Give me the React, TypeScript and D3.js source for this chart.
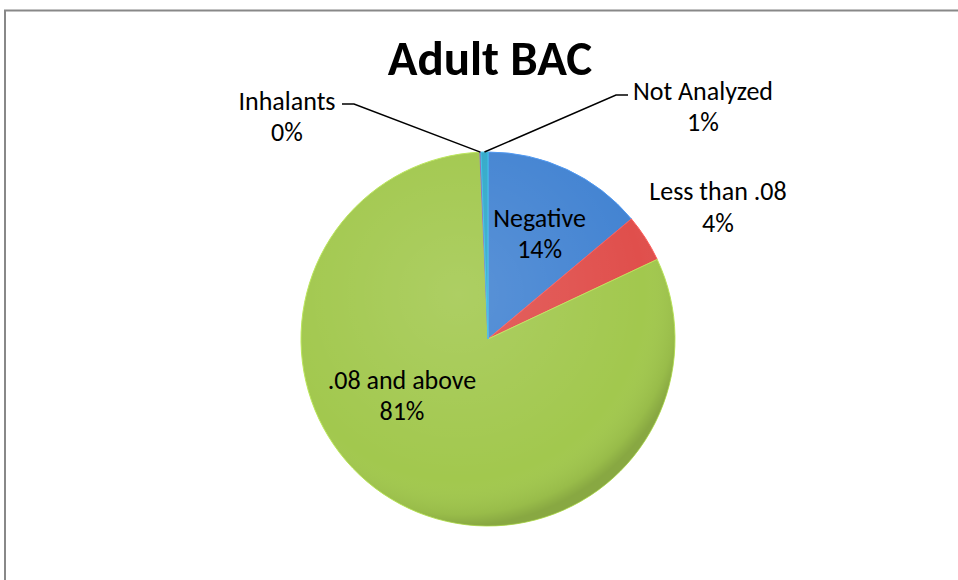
import React from "react";
import * as d3 from "d3";

const title = "Adult BAC";
const categories = ["Negative", "Less than .08", ".08 and above", "Inhalants", "Not Analyzed"];
const values = [139, 41, 813, 1, 6];
const colors = ["#4484d2", "#e04f4c", "#a2c84e", "#7a5fa0", "#33a9c9"];

const W = 958;
const H = 580;
const cx = 488;
const cy = 339;
const R = 187;

// label layout (polar offsets for in/out labels, absolute for leader-line labels)
const labelLayout: any[] = [
  { type: "polar", angleDeg: 26, r: 0.63 },
  { type: "polar", angleDeg: 60, r: 1.42 },
  { type: "free", x: 402, y: 380 },
  { type: "leader", x: 287, y: 101, lineY: 104, anchorX: 342, hx: 354 },
  { type: "leader", x: 703, y: 91, lineY: 95, anchorX: 628, hx: 616 },
];

export default function App() {
  const total = d3.sum(values);
  const pie = d3.pie<number>().sort(null).value((d) => d).startAngle(0).endAngle(2 * Math.PI);
  const arcs = pie(values);
  const arc = d3.arc<any>().innerRadius(0).outerRadius(R);
  const font = "Carlito, Calibri, 'Open Sans', Lato, sans-serif";

  const pct = (v: number) => `${Math.round((v / total) * 100)}%`;

  return (
    <svg width={W} height={H} style={{ position: "absolute", left: 0, top: 0, background: "#fff" }}>
      <defs>
        <radialGradient id="shade" cx="0.42" cy="0.38" r="0.62">
          <stop offset="0" stopColor="#ffffff" stopOpacity={0.12} />
          <stop offset="0.8" stopColor="#ffffff" stopOpacity={0} />
          <stop offset="0.95" stopColor="#000000" stopOpacity={0.06} />
          <stop offset="1" stopColor="#000000" stopOpacity={0.16} />
        </radialGradient>
      </defs>
      <path d={`M5,${H} V10.5 H${W}`} fill="none" stroke="#888" strokeWidth={2} />
      <text x={cx + 2} y={75} textAnchor="middle" fontFamily={font} fontWeight="bold" fontSize={49} fill="#000">
        {title}
      </text>
      <g transform={`translate(${cx},${cy})`}>
        {arcs.map((a, i) => (
          <path key={i} d={arc(a) as string} fill={colors[i]} stroke={d3.color(colors[i])!.brighter(0.4).toString()} strokeWidth={1} />
        ))}
        <circle r={R} fill="url(#shade)" />
      </g>
      {arcs.map((a, i) => {
        const L = labelLayout[i];
        const name = categories[i];
        const p = pct(values[i]);
        let x = 0;
        let y = 0;
        let leader: string | null = null;
        if (L.type === "polar") {
          const ang = (L.angleDeg * Math.PI) / 180;
          x = cx + Math.sin(ang) * R * L.r;
          y = cy - Math.cos(ang) * R * L.r - 15;
        } else if (L.type === "free") {
          x = L.x;
          y = L.y;
        } else {
          x = L.x;
          y = L.y;
          const mid = (a.startAngle + a.endAngle) / 2;
          const ex = cx + Math.sin(mid) * R;
          const ey = cy - Math.cos(mid) * R;
          leader = `M${L.anchorX},${L.lineY} H${L.hx} L${ex},${ey}`;
        }
        return (
          <g key={"l" + i}>
            {leader && <path d={leader} fill="none" stroke="#000" strokeWidth={1.5} />}
            <text x={x} y={y} textAnchor="middle" fontFamily={font} fontSize={26} fill="#000">
              <tspan x={x} dy="0.35em">{name}</tspan>
              <tspan x={x} dy="1.2em">{p}</tspan>
            </text>
          </g>
        );
      })}
    </svg>
  );
}
